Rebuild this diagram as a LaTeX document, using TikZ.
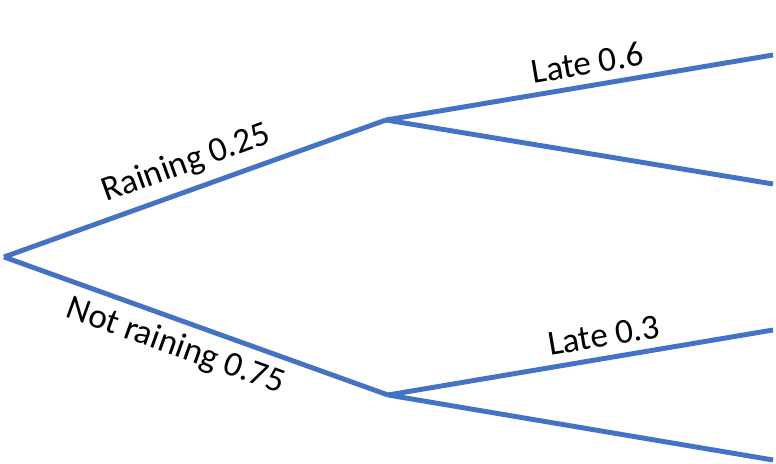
\documentclass[tikz,border=0pt]{standalone}
\usepackage{fontspec}
\setmainfont{Carlito}
\definecolor{branchblue}{RGB}{68,114,196}
\begin{document}
\begin{tikzpicture}[branch/.style={draw=branchblue,line width=2.8pt},
                    prob/.style={font=\fontsize{20}{22}\selectfont,sloped,above,inner sep=5pt}]
                        \useasboundingbox (0,0) rectangle (15.52,9.28);
                        \coordinate (root) at (0.08,4.14);
                        \coordinate (rain) at (7.72,6.88);
                        \coordinate (dry) at (7.76,1.38);
                        \coordinate (rainlate) at (15.46,8.18);
                        \coordinate (rainok) at (15.46,5.60);
                        \coordinate (drylate) at (15.46,2.68);
                        \coordinate (dryok) at (15.46,0.08);

                        \draw[branch] (root)--(rain) node[prob,pos=0.5] {Raining 0.25};
                        \draw[branch] (root)--(dry) node[prob,below,pos=0.47] {Not raining 0.75};

                        \draw[branch] (rain)--(rainlate) node[prob,pos=0.53] {Late 0.6};
                        \draw[branch] (rain)--(rainok);
                        \draw[branch] (dry)--(drylate) node[prob,pos=0.57] {Late 0.3};
                        \draw[branch] (dry)--(dryok);
                    \end{tikzpicture}
\end{document}
